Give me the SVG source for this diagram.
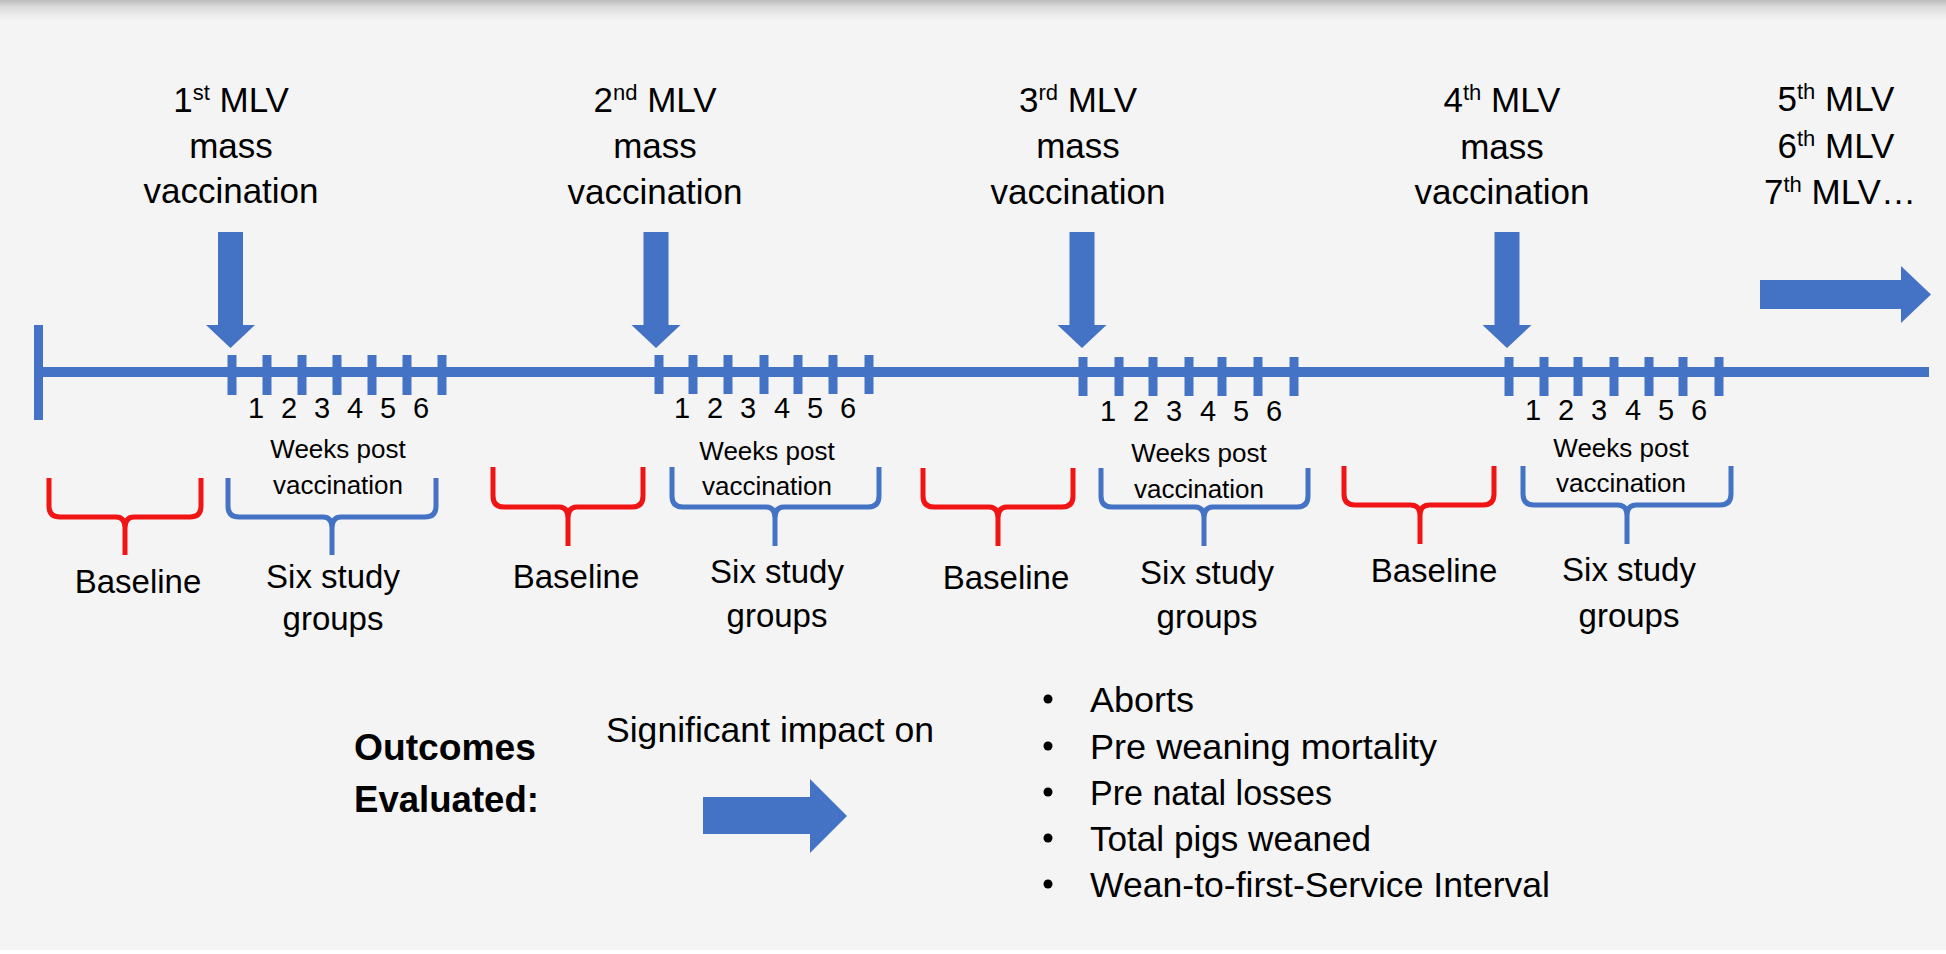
<svg xmlns="http://www.w3.org/2000/svg" width="1946" height="954" viewBox="0 0 1946 954">
<defs>
<linearGradient id="topShade" x1="0" y1="0" x2="0" y2="1">
<stop offset="0" stop-color="#bcbcbc"/>
<stop offset="0.35" stop-color="#dcdcdc"/>
<stop offset="1" stop-color="#f4f4f4"/>
</linearGradient>
<style>
.bg{fill:#f4f4f4}
.blue{fill:#4472c4}
.t{font-family:"Liberation Sans",Arial,sans-serif;fill:#000;text-anchor:middle}
.title{font-size:35px}
.sup{font-size:22px}
.num{font-size:29px}
.wk{font-size:26px}
.lbl{font-size:33px}
.bold{font-family:"Liberation Sans",Arial,sans-serif;font-weight:bold;font-size:37px;fill:#000}
.body{font-family:"Liberation Sans",Arial,sans-serif;font-size:35px;fill:#000}
.brR{fill:none;stroke:#f01414;stroke-width:5;stroke-linejoin:round}
.brB{fill:none;stroke:#4472c4;stroke-width:5;stroke-linejoin:round}
</style>
</defs>
<rect class="bg" x="0" y="0" width="1946" height="954"/>
<rect x="0" y="0" width="1946" height="20" fill="url(#topShade)"/>
<rect x="0" y="950" width="1946" height="4" fill="#ffffff"/>

<g id="timeline">
<rect class="blue" x="34" y="367" width="1895" height="10"/>
<rect class="blue" x="34" y="325" width="9" height="95"/>
</g>

<g id="connectors">
<polygon class="blue" points="218,232 243,232 243,325 255,325 230.5,348 206,325 218,325"/>
<polygon class="blue" points="643.5,232 668.5,232 668.5,325 680.5,325 656,348 631.5,325 643.5,325"/>
<polygon class="blue" points="1069.5,232 1094.5,232 1094.5,325 1106.5,325 1082,348 1057.5,325 1069.5,325"/>
<polygon class="blue" points="1494.5,232 1519.5,232 1519.5,325 1531.5,325 1507,348 1482.5,325 1494.5,325"/>
<polygon class="blue" points="1760,280 1901,280 1901,266 1931,294.5 1901,323 1901,309 1760,309"/>
<polygon class="blue" points="703,797 810,797 810,779 847,816 810,853 810,834 703,834"/>
</g>

<g id="group1">
<text class="t title" x="231" y="112">1<tspan class="sup" dy="-12">st</tspan><tspan dy="12"> MLV</tspan></text>
<text class="t title" x="231" y="158">mass</text>
<text class="t title" x="231" y="203">vaccination</text>
<g class="blue">
<rect x="227.5" y="355" width="9" height="40"/><rect x="262.5" y="355" width="9" height="40"/><rect x="297.5" y="355" width="9" height="40"/><rect x="332.5" y="355" width="9" height="40"/><rect x="367.5" y="355" width="9" height="40"/><rect x="402.5" y="355" width="9" height="40"/><rect x="437.5" y="355" width="9" height="40"/>
</g>
<text class="t num" y="418"><tspan x="256">1</tspan><tspan x="289">2</tspan><tspan x="322">3</tspan><tspan x="355">4</tspan><tspan x="388">5</tspan><tspan x="421">6</tspan></text>
<text class="t wk" x="338" y="458">Weeks post</text>
<text class="t wk" x="338" y="494">vaccination</text>
<path class="brR" d="M49,478 L49,506 Q49,517 60,517 L116,517 Q125,517 125,528 L125,555 M201,478 L201,506 Q201,517 190,517 L134,517 Q125,517 125,528"/>
<path class="brB" d="M228,478 L228,506 Q228,517 239,517 L323,517 Q332,517 332,528 L332,555 M436,478 L436,506 Q436,517 425,517 L341,517 Q332,517 332,528"/>
<text class="t lbl" x="138" y="593">Baseline</text>
<text class="t lbl" x="333" y="588">Six study</text>
<text class="t lbl" x="333" y="630">groups</text>
</g>

<g id="group2">
<text class="t title" x="655" y="112">2<tspan class="sup" dy="-12">nd</tspan><tspan dy="12"> MLV</tspan></text>
<text class="t title" x="655" y="158">mass</text>
<text class="t title" x="655" y="204">vaccination</text>
<g class="blue">
<rect x="654.5" y="355" width="9" height="39"/><rect x="688.5" y="355" width="9" height="39"/><rect x="723.5" y="355" width="9" height="39"/><rect x="759.5" y="355" width="9" height="39"/><rect x="793.5" y="355" width="9" height="39"/><rect x="828.5" y="355" width="9" height="39"/><rect x="864.5" y="355" width="9" height="39"/>
</g>
<text class="t num" y="418"><tspan x="682">1</tspan><tspan x="715">2</tspan><tspan x="748">3</tspan><tspan x="782">4</tspan><tspan x="815">5</tspan><tspan x="848">6</tspan></text>
<text class="t wk" x="767" y="460">Weeks post</text>
<text class="t wk" x="767" y="495">vaccination</text>
<path class="brR" d="M493,467 L493,496 Q493,507 504,507 L559,507 Q568,507 568,518 L568,546 M643,467 L643,496 Q643,507 632,507 L577,507 Q568,507 568,518"/>
<path class="brB" d="M672,467 L672,496 Q672,507 683,507 L766,507 Q775,507 775,518 L775,546 M879,467 L879,496 Q879,507 868,507 L784,507 Q775,507 775,518"/>
<text class="t lbl" x="576" y="588">Baseline</text>
<text class="t lbl" x="777" y="583">Six study</text>
<text class="t lbl" x="777" y="627">groups</text>
</g>

<g id="group3">
<text class="t title" x="1078" y="112">3<tspan class="sup" dy="-12">rd</tspan><tspan dy="12"> MLV</tspan></text>
<text class="t title" x="1078" y="158">mass</text>
<text class="t title" x="1078" y="204">vaccination</text>
<g class="blue">
<rect x="1078.5" y="357" width="9" height="39"/><rect x="1114.5" y="357" width="9" height="39"/><rect x="1148.5" y="357" width="9" height="39"/><rect x="1184.5" y="357" width="9" height="39"/><rect x="1217.5" y="357" width="9" height="39"/><rect x="1253.5" y="357" width="9" height="39"/><rect x="1289.5" y="357" width="9" height="39"/>
</g>
<text class="t num" y="421"><tspan x="1108">1</tspan><tspan x="1141">2</tspan><tspan x="1174">3</tspan><tspan x="1208">4</tspan><tspan x="1241">5</tspan><tspan x="1274">6</tspan></text>
<text class="t wk" x="1199" y="462">Weeks post</text>
<text class="t wk" x="1199" y="498">vaccination</text>
<path class="brR" d="M923,468 L923,496 Q923,507 934,507 L989,507 Q998,507 998,518 L998,546 M1073,468 L1073,496 Q1073,507 1062,507 L1007,507 Q998,507 998,518"/>
<path class="brB" d="M1101,468 L1101,496 Q1101,507 1112,507 L1195,507 Q1204,507 1204,518 L1204,546 M1308,468 L1308,496 Q1308,507 1297,507 L1213,507 Q1204,507 1204,518"/>
<text class="t lbl" x="1006" y="589">Baseline</text>
<text class="t lbl" x="1207" y="584">Six study</text>
<text class="t lbl" x="1207" y="628">groups</text>
</g>

<g id="group4">
<text class="t title" x="1502" y="112">4<tspan class="sup" dy="-12">th</tspan><tspan dy="12"> MLV</tspan></text>
<text class="t title" x="1502" y="159">mass</text>
<text class="t title" x="1502" y="204">vaccination</text>
<g class="blue">
<rect x="1504.5" y="357" width="9" height="39"/><rect x="1539.5" y="357" width="9" height="39"/><rect x="1573.5" y="357" width="9" height="39"/><rect x="1609.5" y="357" width="9" height="39"/><rect x="1644.5" y="357" width="9" height="39"/><rect x="1678.5" y="357" width="9" height="39"/><rect x="1714.5" y="357" width="9" height="39"/>
</g>
<text class="t num" y="420"><tspan x="1533">1</tspan><tspan x="1566">2</tspan><tspan x="1599">3</tspan><tspan x="1633">4</tspan><tspan x="1666">5</tspan><tspan x="1699">6</tspan></text>
<text class="t wk" x="1621" y="457">Weeks post</text>
<text class="t wk" x="1621" y="492">vaccination</text>
<path class="brR" d="M1344,466 L1344,494 Q1344,505 1355,505 L1411,505 Q1420,505 1420,516 L1420,544 M1494,466 L1494,494 Q1494,505 1483,505 L1429,505 Q1420,505 1420,516"/>
<path class="brB" d="M1523,466 L1523,494 Q1523,505 1534,505 L1618,505 Q1627,505 1627,516 L1627,544 M1731,466 L1731,494 Q1731,505 1720,505 L1636,505 Q1627,505 1627,516"/>
<text class="t lbl" x="1434" y="582">Baseline</text>
<text class="t lbl" x="1629" y="581">Six study</text>
<text class="t lbl" x="1629" y="627">groups</text>
</g>

<g id="future">
<text class="t title" x="1836" y="111">5<tspan class="sup" dy="-12">th</tspan><tspan dy="12"> MLV</tspan></text>
<text class="t title" x="1836" y="158">6<tspan class="sup" dy="-12">th</tspan><tspan dy="12"> MLV</tspan></text>
<text class="t title" x="1840" y="204">7<tspan class="sup" dy="-12">th</tspan><tspan dy="12"> MLV…</tspan></text>
</g>

<g id="outcomes">
<text class="bold" x="354" y="760" textLength="182" lengthAdjust="spacingAndGlyphs">Outcomes</text>
<text class="bold" x="354" y="812" textLength="185" lengthAdjust="spacingAndGlyphs">Evaluated:</text>
<text class="body" x="606" y="742" textLength="328" lengthAdjust="spacingAndGlyphs">Significant impact on</text>
</g>

<g id="outcome-list">
<circle cx="1048" cy="699" r="4.5" fill="#000"/>
<circle cx="1048" cy="746" r="4.5" fill="#000"/>
<circle cx="1048" cy="792" r="4.5" fill="#000"/>
<circle cx="1048" cy="838" r="4.5" fill="#000"/>
<circle cx="1048" cy="884" r="4.5" fill="#000"/>
<text class="body" x="1090" y="712" textLength="104" lengthAdjust="spacingAndGlyphs">Aborts</text>
<text class="body" x="1090" y="759" textLength="347" lengthAdjust="spacingAndGlyphs">Pre weaning mortality</text>
<text class="body" x="1090" y="805" textLength="242" lengthAdjust="spacingAndGlyphs">Pre natal losses</text>
<text class="body" x="1090" y="851" textLength="281" lengthAdjust="spacingAndGlyphs">Total pigs weaned</text>
<text class="body" x="1090" y="897" textLength="460" lengthAdjust="spacingAndGlyphs">Wean-to-first-Service Interval</text>
</g>
</svg>
